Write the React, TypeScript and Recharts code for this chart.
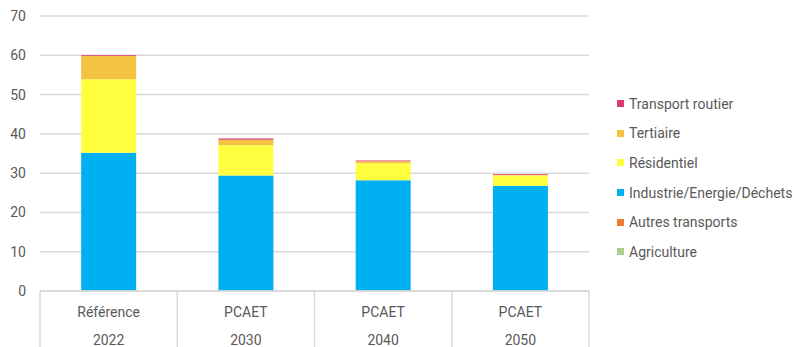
import React from "react";
import { BarChart, Bar, XAxis, YAxis, CartesianGrid, Legend } from "recharts";

const labels = ["Référence", "PCAET", "PCAET", "PCAET"];
const years = ["2022", "2030", "2040", "2050"];

const agriculture = [0.1, 0.1, 0.1, 0.1];
const autresTransports = [0.1, 0.1, 0.1, 0.1];
const industrie = [35.0, 29.2, 28.0, 26.6];
const residentiel = [18.7, 7.7, 4.3, 2.6];
const tertiaire = [6.0, 1.4, 0.5, 0.2];
const transportRoutier = [0.2, 0.3, 0.2, 0.2];

const yTicks = [0, 10, 20, 30, 40, 50, 60, 70];

const SERIES = [
  { key: "agriculture", name: "Agriculture", color: "#A9D18E" },
  { key: "autres", name: "Autres transports", color: "#ED7D31" },
  { key: "industrie", name: "Industrie/Energie/Déchets", color: "#00B0F0" },
  { key: "residentiel", name: "Résidentiel", color: "#FFFF3F" },
  { key: "tertiaire", name: "Tertiaire", color: "#F5C342" },
  { key: "routier", name: "Transport routier", color: "#DB3A6E" },
];

const data = years.map((y, i) => ({
  cat: `${labels[i]} ${y}`,
  label: labels[i],
  year: y,
  agriculture: agriculture[i],
  autres: autresTransports[i],
  industrie: industrie[i],
  residentiel: residentiel[i],
  tertiaire: tertiaire[i],
  routier: transportRoutier[i],
}));

const FONT = "Roboto, 'Open Sans', sans-serif";
const TEXT = "#595959";
const GRID = "#D9D9D9";

function CategoryTick(props: any) {
  const { x, y, payload, index } = props;
  const half = payload.offset || 0;
  const row = data[index] || { label: "", year: "" };
  return (
    <g>
      <line x1={x - half} y1={y - 8} x2={x - half} y2={y + 60} stroke={GRID} strokeWidth={1.5} />
      {index === data.length - 1 && (
        <line x1={x + half} y1={y - 8} x2={x + half} y2={y + 60} stroke={GRID} strokeWidth={1.5} />
      )}
      <text x={x} y={y + 18} textAnchor="middle" fill={TEXT} fontSize={14} fontFamily={FONT}>
        {row.label}
      </text>
      <text x={x} y={y + 46} textAnchor="middle" fill={TEXT} fontSize={14} fontFamily={FONT}>
        {row.year}
      </text>
    </g>
  );
}

function LegendBox() {
  const items = [...SERIES].reverse();
  return (
    <div style={{ fontFamily: FONT, fontSize: 14, color: TEXT, width: 177 }}>
      {items.map((s) => (
        <div key={s.key} style={{ display: "flex", alignItems: "center", height: 29.6, whiteSpace: "nowrap" }}>
          <span style={{ width: 7, height: 7, background: s.color, marginRight: 5, flexShrink: 0 }} />
          <span>{s.name}</span>
        </div>
      ))}
    </div>
  );
}

export default function App() {
  return (
    <div style={{ width: 794, height: 347, background: "#fff", overflow: "hidden" }}>
      <style>{`body{margin:0}`}</style>
      <BarChart
        width={794}
        height={347}
        data={data}
        margin={{ top: 16, right: 28, left: 10, bottom: 0 }}
        barCategoryGap="30%"
      >
        <CartesianGrid vertical={false} stroke={GRID} strokeWidth={1.5} />
        <XAxis
          dataKey="cat"
          height={56}
          axisLine={{ stroke: GRID, strokeWidth: 1.5 }}
          tickLine={false}
          interval={0}
          tick={<CategoryTick />}
        />
        <YAxis
          width={30}
          domain={[0, 70]}
          ticks={yTicks}
          interval={0}
          axisLine={false}
          tickLine={false}
          tickMargin={8}
          tick={{ fill: TEXT, fontSize: 14, fontFamily: FONT }}
        />
        <Legend
          layout="vertical"
          align="right"
          verticalAlign="middle"
          content={() => <LegendBox />}
          wrapperStyle={{ position: "absolute", left: 617, top: 89, width: 177 }}
        />
        {SERIES.map((s) => (
          <Bar
            key={s.key}
            dataKey={s.key}
            name={s.name}
            stackId="a"
            fill={s.color}
            isAnimationActive={false}
          />
        ))}
      </BarChart>
    </div>
  );
}
